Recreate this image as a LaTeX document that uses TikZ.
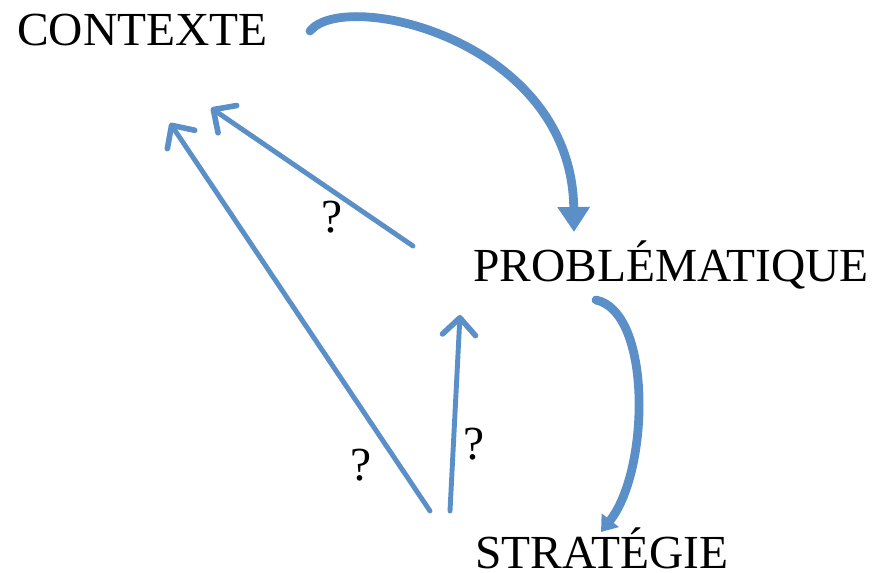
\documentclass[tikz,border=0pt]{standalone}
\usepackage{fontspec}
\setmainfont{Liberation Serif}
\usepackage{tikz}
\usetikzlibrary{arrows.meta}
\definecolor{flowblue}{RGB}{91,143,199}

\begin{document}
\begin{tikzpicture}[x = .02cm, y = -.02cm,
    word/.style = {inner sep = 0, font = \fontsize{27}{32}\selectfont},
    ask/.style = {-{Straight Barb[length = .34cm, width = .66cm, line width = 3.2pt, line cap = round, line join = round]}, line width = 2.8pt, flowblue, line cap = round},
    loop/.style = {line width = 5pt, flowblue, line cap = round}]
    \useasboundingbox (0,0) rectangle (885,573);
    \node[word, anchor = base west] (ctx) at (17,46) {CONTEXTE};
    \node[word, anchor = base west] (prob) at (473,282) {PROBLÉMATIQUE};
    \node[word, anchor = base west] (strat) at (475,568) {STRATÉGIE};
    \node[word, anchor = base] (q1) at (332,233) {?};
    \node[word, anchor = base] (q2) at (361,480) {?};
    \node[word, anchor = base] (q3) at (474,460) {?};
    % free ends of the arrows
    \coordinate (ctxA) at (211,108);
    \coordinate (ctxB) at (170,123);
    \coordinate (probA) at (413,246);
    \coordinate (probB) at (460,315);
    \coordinate (probC) at (596,300);
    \coordinate (ctxC) at (310,31);
    \coordinate (stratA) at (430,511);
    \coordinate (stratB) at (450,511);
    \coordinate (stratC) at (601,532);
    \coordinate (probD) at (574,232);
    \draw[loop, -{Triangle[length = .5cm, width = .62cm]}] (ctxC) .. controls (345,-12) and (572,40) .. (probD);
    \draw[loop, -{Triangle[length = .3cm, width = .42cm]}] (probC) .. controls (652,312) and (650,470) .. (stratC);
    \draw[ask] (probA) -- (ctxA);
    \draw[ask] (stratA) -- (ctxB);
    \draw[ask] (stratB) -- (probB);
\end{tikzpicture}
\end{document}
